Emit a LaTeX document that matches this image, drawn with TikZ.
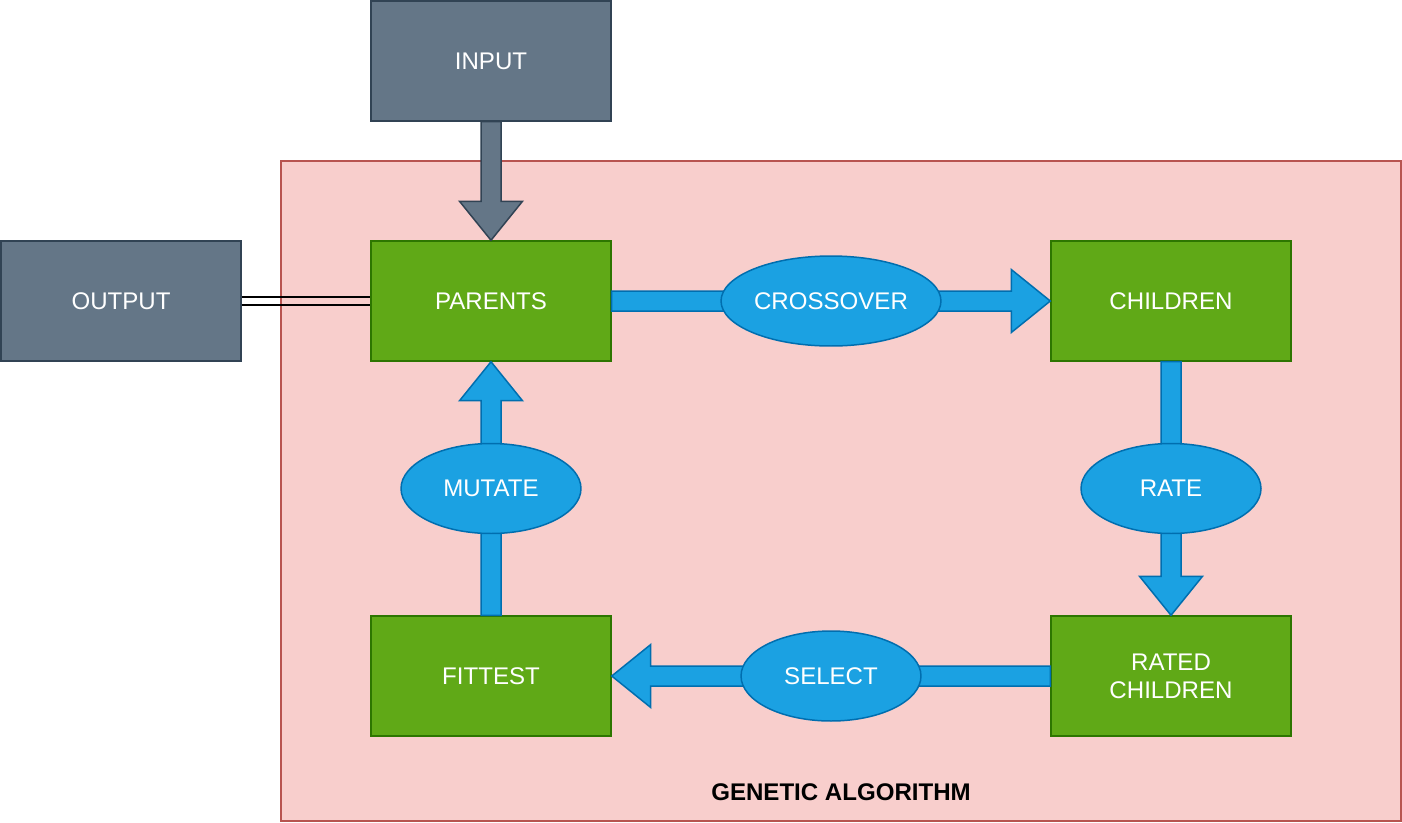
\documentclass[tikz,border=0pt]{standalone}
\usepackage{fontspec}
\setmainfont{Liberation Sans}
\usetikzlibrary{shapes.geometric, calc}

\definecolor{gagreen}{HTML}{60A917}
\definecolor{gagreenline}{HTML}{2D7600}
\definecolor{slate}{HTML}{647687}
\definecolor{slateline}{HTML}{314354}
\definecolor{gablue}{HTML}{1BA1E2}
\definecolor{gablueline}{HTML}{006EAF}
\definecolor{gapink}{HTML}{F8CECC}
\definecolor{gapinkline}{HTML}{B85450}

\tikzset{
  blockarrow/.style={draw=gablueline, fill=gablue, to path={
    ($(\tikztostart)!0.2cm!90:(\tikztotarget)$)
    -- ($($(\tikztotarget)!0.78cm!(\tikztostart)$)!0.2cm!-90:(\tikztostart)$)
    -- ($($(\tikztotarget)!0.78cm!(\tikztostart)$)!0.63cm!-90:(\tikztostart)$)
    -- (\tikztotarget)
    -- ($($(\tikztotarget)!0.78cm!(\tikztostart)$)!0.63cm!90:(\tikztostart)$)
    -- ($($(\tikztotarget)!0.78cm!(\tikztostart)$)!0.2cm!90:(\tikztostart)$)
    -- ($(\tikztostart)!0.2cm!-90:(\tikztotarget)$) -- cycle}}
}

\begin{document}
\begin{tikzpicture}[x=0.02cm, y=-0.02cm, line width=0.85pt,
                    font=\fontsize{13.7}{15.9}\selectfont]
\useasboundingbox (0,0) rectangle (1402,822);

\node[draw=gapinkline, fill=gapink, minimum width=22.4cm, minimum height=13.2cm, inner sep=0] (ga) at (841,491) {};
\node[font=\fontsize{13.7}{15.9}\selectfont\bfseries] (galabel) at ([yshift=0.58cm]ga.south) {GENETIC ALGORITHM};

\begin{scope}[every node/.style={draw, minimum width=4.8cm, minimum height=2.4cm, text=white, inner sep=0, align=center}]
  \node[fill=slate, draw=slateline] (input) at (491,61) {INPUT};
  \node[fill=slate, draw=slateline] (output) at (121,301) {OUTPUT};
  \node[fill=gagreen, draw=gagreenline] (parents) at (491,301) {PARENTS};
  \node[fill=gagreen, draw=gagreenline] (children) at (1171,301) {CHILDREN};
  \node[fill=gagreen, draw=gagreenline] (rated) at (1171,676) {RATED\\CHILDREN};
  \node[fill=gagreen, draw=gagreenline] (fittest) at (491,676) {FITTEST};
\end{scope}

\begin{scope}[every edge/.style={draw}]
  \path (input.south) edge[blockarrow, draw=slateline, fill=slate] (parents.north);
  \path (parents.east) edge[blockarrow] (children.west);
  \path (children.south) edge[blockarrow] (rated.north);
  \path (rated.west) edge[blockarrow] (fittest.east);
  \path (fittest.north) edge[blockarrow] (parents.south);
  % output link
  \path ([yshift=2.3pt]output.east) edge[line width=1pt] ([yshift=2.3pt]parents.west)
        ([yshift=-2.3pt]output.east) edge[line width=1pt] ([yshift=-2.3pt]parents.west);
\end{scope}

\begin{scope}[every node/.style={ellipse, draw=gablueline, fill=gablue, text=white, minimum width=3.6cm, minimum height=1.8cm, inner sep=0}]
  \node[minimum width=4.4cm] (crossover) at ($(parents.east)!0.5!(children.west)$) {CROSSOVER};
  \node (rate) at ($(children.south)!0.5!(rated.north)$) {RATE};
  \node (select) at ($(rated.west)!0.5!(fittest.east)$) {SELECT};
  \node (mutate) at ($(fittest.north)!0.5!(parents.south)$) {MUTATE};
\end{scope}

\end{tikzpicture}
\end{document}
